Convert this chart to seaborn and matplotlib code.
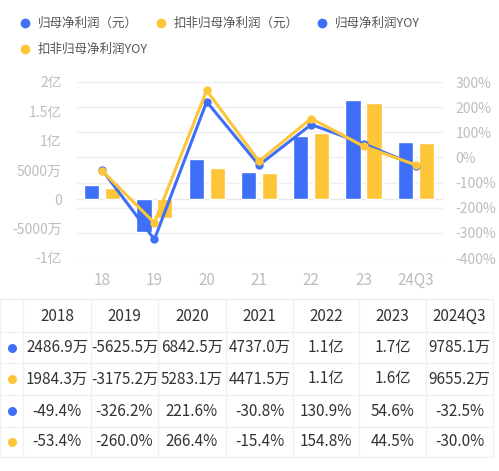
import matplotlib
matplotlib.use("Agg")
import matplotlib.pyplot as plt
import matplotlib.transforms as mtransforms
import numpy as np
import pandas as pd
import seaborn as sns

sns.set_style("white")
plt.rcParams['font.family'] = ['Noto Sans CJK SC', 'DejaVu Sans']

# data
years = ["2018", "2019", "2020", "2021", "2022", "2023", "2024Q3"]
short_years = ["18", "19", "20", "21", "22", "23", "24Q3"]
net_profit = [24869000, -56255000, 68425000, 47370000, 108000000, 169000000, 97851000]
net_profit_deducted = [19843000, -31752000, 52831000, 44715000, 113000000, 164000000, 96552000]
net_profit_yoy = [-49.4, -326.2, 221.6, -30.8, 130.9, 54.6, -32.5]
deducted_yoy = [-53.4, -260.0, 266.4, -15.4, 154.8, 44.5, -30.0]

left_ticks = [-1e8, -5e7, 0, 5e7, 1e8, 1.5e8, 2e8]
left_labels = ["-1亿", "-5000万", "0", "5000万", "1亿", "1.5亿", "2亿"]
right_ticks = [-400, -300, -200, -100, 0, 100, 200, 300]

series_names = ["归母净利润（元）", "扣非归母净利润（元）", "归母净利润YOY", "扣非归母净利润YOY"]
BLUE = "#3e6ff6"
YELLOW = "#fdc537"


def fmt_money(v):
    if abs(v) >= 1e8:
        return f"{v / 1e8:.1f}亿"
    return f"{v / 1e4:.1f}万"


W, H = 499, 471
fig = plt.figure(figsize=(W / 100, H / 100), dpi=100)

# overlay axes in pixel coordinates for legend + table
ov = fig.add_axes([0, 0, 1, 1])
ov.set_xlim(0, W)
ov.set_ylim(H, 0)
ov.axis("off")

# main chart
ax = fig.add_axes([77 / W, 1 - 258 / H, (443 - 77) / W, 176 / H])
ax2 = ax.twinx()

df = pd.DataFrame({
    "year": short_years * 2,
    "value": net_profit + net_profit_deducted,
    "kind": [series_names[0]] * 7 + [series_names[1]] * 7,
})
sns.barplot(data=df, x="year", y="value", hue="kind", palette=[BLUE, YELLOW],
            width=0.8, gap=0.275, saturation=1, legend=False, ax=ax, zorder=2)

x = np.arange(len(years))
sns.lineplot(x=x, y=net_profit_yoy, color=BLUE, marker="o", markersize=6,
             markeredgewidth=0, linewidth=2.2, ax=ax2)
sns.lineplot(x=x, y=deducted_yoy, color=YELLOW, marker="o", markersize=6,
             markeredgewidth=0, linewidth=2.2, ax=ax2)

ax.set_xlim(-0.48, 6.52)
ax.set_ylim(-1e8, 2e8)
ax2.set_ylim(-400, 300)

# gridlines follow the right axis, but sit behind the bars
trans = mtransforms.blended_transform_factory(ax.transAxes, ax2.transData)
for v in right_ticks:
    ax.plot([0, 1], [v, v], transform=trans, color="#efefef", lw=1, zorder=0)
ax.axhline(0, color="#e8e8e8", lw=1, zorder=1)

ax.set_yticks(left_ticks)
ax.set_yticklabels(left_labels)
ax2.set_yticks(right_ticks)
ax2.set_yticklabels([f"{t}%" for t in right_ticks])
ax.set_xticks(x)
ax.set_xticklabels(short_years)

ax.tick_params(axis="y", length=0, pad=11, labelsize=10, labelcolor="#bdbdbd")
ax.tick_params(axis="x", length=0, pad=10, labelsize=11, labelcolor="#bdbdbd")
ax2.tick_params(axis="y", length=0, pad=9, labelsize=10, labelcolor="#bdbdbd")
ax.set_xlabel("")
ax.set_ylabel("")
for a in (ax, ax2):
    for s in a.spines.values():
        s.set_visible(False)
    a.grid(False)

# legend
legend_pos = [(25, 23), (161, 23), (322, 23), (25, 49)]
legend_cols = [BLUE, YELLOW, BLUE, YELLOW]
for (lx, ly), c, name in zip(legend_pos, legend_cols, series_names):
    ov.plot([lx], [ly], marker="o", ms=7, color=c, mec="none")
    ov.text(lx + 13, ly, name, fontsize=9, color="#555555", va="center", ha="left")

# table
col_edges = [0, 23, 91, 158, 226, 293, 359, 426, 493]
row_edges = [299, 332, 363, 395, 427, 457]
grid_c = "#f0f0f0"
for yy in row_edges:
    ov.plot([col_edges[0], col_edges[-1]], [yy, yy], color=grid_c, lw=1)
for xx in col_edges:
    ov.plot([xx, xx], [row_edges[0], row_edges[-1]], color=grid_c, lw=1)

col_centers = [(col_edges[i] + col_edges[i + 1]) / 2 for i in range(1, len(col_edges) - 1)]
row_centers = [(row_edges[i] + row_edges[i + 1]) / 2 for i in range(len(row_edges) - 1)]

for cx, yr in zip(col_centers, years):
    ov.text(cx, row_centers[0] + 1, yr, fontsize=11, color="#333333",
            ha="center", va="center", fontweight="medium")

rows = [
    [fmt_money(v) for v in net_profit],
    [fmt_money(v) for v in net_profit_deducted],
    [f"{v:.1f}%" for v in net_profit_yoy],
    [f"{v:.1f}%" for v in deducted_yoy],
]
for ry, vals, c in zip(row_centers[1:], rows, legend_cols):
    ov.plot([12], [ry], marker="o", ms=6.5, color=c, mec="none")
    for cx, s in zip(col_centers, vals):
        ov.text(cx, ry, s, fontsize=11, color="#333333", ha="center", va="center")

fig.savefig("out.png", dpi=100)
